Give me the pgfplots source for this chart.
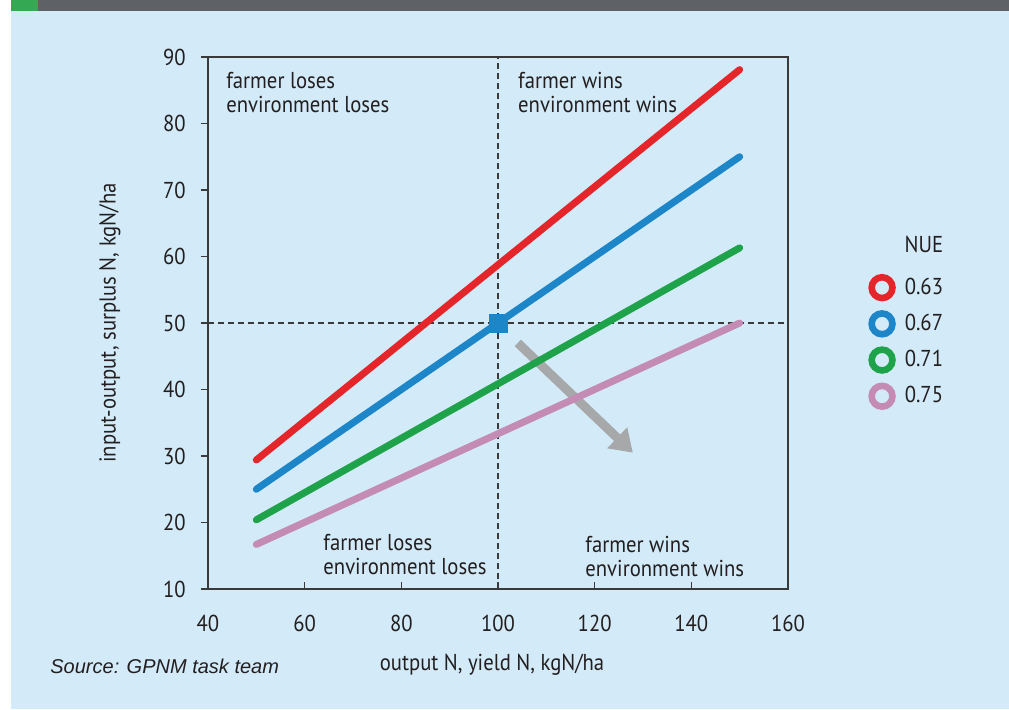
\documentclass[border=0pt]{standalone}
\usepackage{fontspec}
\setmainfont{PT Sans}[FakeStretch=0.9]
\newfontfamily\srcfont{Liberation Sans}
\usepackage{pgfplots}
\pgfplotsset{compat=1.18}
\usetikzlibrary{arrows.meta}

\definecolor{bgblue}{HTML}{D3EAF8}
\definecolor{bargray}{HTML}{5E6266}
\definecolor{tabgreen}{HTML}{34A853}
\definecolor{axisgray}{HTML}{3A3A3A}
\definecolor{txt}{HTML}{231F20}
\definecolor{nuered}{HTML}{E4262B}
\definecolor{nueblue}{HTML}{1C86C8}
\definecolor{nuegreen}{HTML}{1FA34A}
\definecolor{nuepink}{HTML}{C48BB4}
\definecolor{arrowgray}{HTML}{A7A8AA}

\newcommand\lbl{\fontsize{11.5}{12}\selectfont}

\begin{document}
\begin{tikzpicture}
% page: 1009x709 px at 2 px/pt, origin at the axis' lower left corner
\useasboundingbox (-104pt,-60pt) rectangle (400.5pt,294.5pt);
\fill[white] (-104pt,-60pt) rectangle (400.5pt,294.5pt);
\fill[bgblue] (-98.5pt,-60pt) rectangle (400.5pt,289pt);
\fill[bargray] (-98.5pt,289pt) rectangle (400.5pt,294.5pt);
\fill[tabgreen] (-98.5pt,289pt) rectangle (-85pt,294.5pt);

\begin{axis}[
  at={(0pt,0pt)}, anchor=south west,
  scale only axis, width=290pt, height=266pt,
  xmin=40, xmax=160, ymin=10, ymax=90,
  xtick={40,60,...,160}, ytick={10,20,...,90},
  xtick pos=bottom, ytick pos=left,
  tick align=inside, major tick length=3.5pt,
  y tick style={xshift=-3.5pt},
  axis line style={draw=axisgray, line width=0.6pt},
  tick style={draw=axisgray, line width=0.6pt},
  /pgf/number format/assume math mode=true,
  ticklabel style={font=\lbl, text=txt, inner sep=0pt},
  xticklabel style={anchor=north, yshift=-13pt},
  yticklabel style={anchor=east, xshift=-11pt},
  label style={font=\lbl, text=txt},
  xlabel={output N, yield N, kgN/ha},
  xlabel style={at={(axis description cs:0.4897,-0.143)}, anchor=center},
  ylabel={input-output, surplus N, kgN/ha},
  ylabel style={at={(axis description cs:-0.169,0.5)}, anchor=center},
  legend style={at={(axis description cs:1.1379,0.593)}, anchor=north west,
    draw=none, fill=none, inner sep=0pt, row sep=4.4pt, column sep=4.5pt,
    font=\lbl, text=txt, nodes={inner sep=0pt}},
  legend cell align=left,
  legend image code/.code={\draw[#1, fill=none, line width=3.3pt] (6.85pt,0pt) circle (5.2pt);},
]
\draw[arrowgray, line width=4.5pt, -{Triangle[length=10.8pt, width=13.8pt]}]
  (axis cs:104.1,47.0) -- (axis cs:127.9,30.5);
\draw[axisgray, line width=0.6pt, dash pattern=on 3pt off 2pt]
  (axis cs:100,10) -- (axis cs:100,90);
\draw[axisgray, line width=0.6pt, dash pattern=on 3pt off 2pt]
  (axis cs:40,50) -- (axis cs:160,50);

\addplot[nuered, line width=3.5pt, line cap=round] coordinates {(50,29.4) (150,88.1)};
\addlegendentry{0.63}
\addplot[nueblue, line width=3.5pt, line cap=round] coordinates {(50,25.0) (150,75.0)};
\addlegendentry{0.67}
\addplot[nuegreen, line width=3.5pt, line cap=round] coordinates {(50,20.4) (150,61.3)};
\addlegendentry{0.71}
\addplot[nuepink, line width=3.5pt, line cap=round] coordinates {(50,16.7) (150,50.0)};
\addlegendentry{0.75}
\addplot[only marks, mark=square*, mark size=4.5pt, color=nueblue, forget plot] coordinates {(100,50)};

\node[anchor=north west, align=left, inner sep=0pt, font=\lbl, text=txt]
  at (axis cs:43.7,87.7) {farmer loses\\environment loses};
\node[anchor=north west, align=left, inner sep=0pt, font=\lbl, text=txt]
  at (axis cs:104.1,87.7) {farmer wins\\environment wins};
\node[anchor=north west, align=left, inner sep=0pt, font=\lbl, text=txt]
  at (axis cs:63.8,18.3) {farmer loses\\environment loses};
\node[anchor=north west, align=left, inner sep=0pt, font=\lbl, text=txt]
  at (axis cs:118.0,18.0) {farmer wins\\environment wins};
\end{axis}

\node[anchor=base, inner sep=0pt, font=\lbl, text=txt] at (358pt,168.5pt) {NUE};
\node[anchor=base west, inner sep=0pt, text=txt] at (-79pt,-42pt)
  {\srcfont\itshape\fontsize{10}{12}\selectfont Source: GPNM task team};
\end{tikzpicture}
\end{document}
